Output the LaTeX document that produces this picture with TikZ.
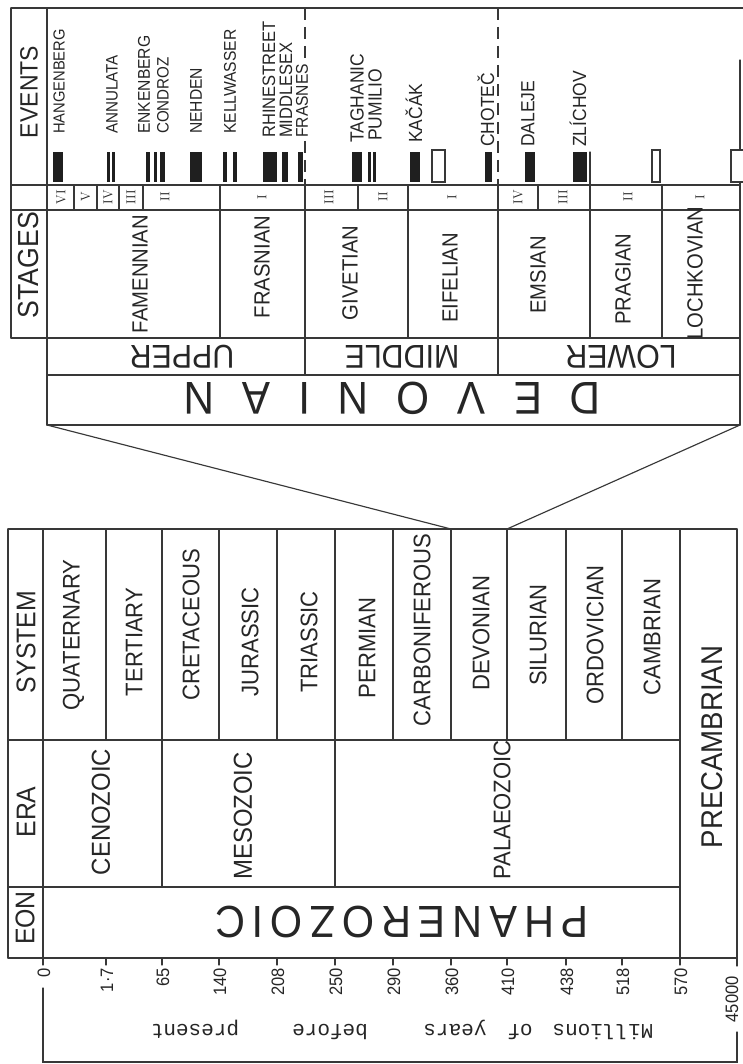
\documentclass[tikz,border=0pt]{standalone}
\usepackage{fontspec}
\newfontfamily\lab{Liberation Sans}[FakeStretch=0.92]
\newfontfamily\mlab{Liberation Mono}
\begin{document}
\begin{tikzpicture}[x=1pt,y=-1pt,
  ln/.style={line width=1.15pt, draw=black!78, line cap=round},
  dsh/.style={line width=1.15pt, draw=black!78, dash pattern=on 12pt off 7pt},
  vt/.style={inner sep=0pt, rotate=90, text=black!85, font={\lab\fontsize{#1}{#1}\selectfont}},
  ut/.style={inner sep=0pt, rotate=180, text=black!85, font={\lab\fontsize{#1}{#1}\selectfont}},
  rn/.style={inner sep=0pt, rotate=90, text=black!85, font={\rmfamily\fontsize{#1}{#1}\selectfont}},
  mw/.style={inner sep=0pt, rotate=180, anchor=base, text=black!85, font={\mlab\fontsize{21}{21}\selectfont}},
  bar/.style={fill=black!88},
  obar/.style={draw=black!78, line width=1.15pt, fill=white},
]
\useasboundingbox (0,0) rectangle (743,1064);
\fill[white] (0,0) rectangle (743,1064);

% ================= TOP TABLE (Devonian detail) =================
\draw[ln] (11,8) -- (746,8);
\draw[ln] (11,8) -- (11,338);
\draw[ln] (47,8) -- (47,425);
\draw[ln] (11,185) -- (740,185);
\draw[ln] (11,210) -- (740,210);
\draw[ln] (11,338) -- (740,338);
\draw[ln] (47,375) -- (740,375);
\draw[ln] (47,425) -- (740,425);
\draw[ln] (740,60) -- (740,425);
\foreach \x in {74,97,119,143,358,538} \draw[ln] (\x,185) -- (\x,210);
\foreach \x in {220,408,662} \draw[ln] (\x,185) -- (\x,338);
\draw[ln] (590,152) -- (590,338);
\foreach \x in {305,498} {\draw[ln] (\x,185) -- (\x,375); \draw[dsh] (\x,8) -- (\x,185);}

% event bars
\fill[bar] (53,152) rectangle (63,182);
\fill[bar] (106.5,152) rectangle (109.5,182);
\fill[bar] (112,152) rectangle (115,182);
\fill[bar] (146,152) rectangle (150,182);
\fill[bar] (154,152) rectangle (157,182);
\fill[bar] (160,152) rectangle (165,182);
\fill[bar] (190,152) rectangle (202,182);
\fill[bar] (223,152) rectangle (227,182);
\fill[bar] (233,152) rectangle (237,182);
\fill[bar] (263,152) rectangle (277,182);
\fill[bar] (282,152) rectangle (288,182);
\fill[bar] (298,152) rectangle (303,182);
\fill[bar] (352,152) rectangle (362,182);
\fill[bar] (368,152) rectangle (370.5,182);
\fill[bar] (373,152) rectangle (375.5,182);
\fill[bar] (410,152) rectangle (420,182);
\draw[obar] (432,150) rectangle (445,182);
\fill[bar] (485,152) rectangle (492,182);
\fill[bar] (525,152) rectangle (535,182);
\fill[bar] (573,152) rectangle (587,182);
\draw[obar] (652,150) rectangle (660,182);
\draw[obar] (731,150) rectangle (747,182);

% event names
\node[vt=16,anchor=west] (eHan) at (59,134) {HANGENBERG};
\node[vt=16.5,anchor=west] (eAnn) at (112,134) {ANNULATA};
\node[vt=17,anchor=west] (eEnk) at (144,134) {ENKENBERG};
\node[vt=16.5,anchor=west] (eCon) at (163,134) {CONDROZ};
\node[vt=17,anchor=west] (eNeh) at (196,134) {NEHDEN};
\node[vt=17,anchor=west] (eKel) at (230,134) {KELLWASSER};
\node[vt=18,anchor=west] (eRhi) at (269,138) {RHINESTREET};
\node[vt=18,anchor=west] (eMid) at (286,138) {MIDDLESEX};
\node[vt=17,anchor=west,fill=white] (eFra) at (302,138) {FRASNES};
\node[vt=19,anchor=west] (eTag) at (357,143) {TAGHANIC};
\node[vt=19,anchor=west] (ePum) at (375,141) {PUMILIO};
\node[vt=19,anchor=west] (eKac) at (414,143) {KAČÁK};
\node[vt=19,anchor=west] (eCho) at (486,147) {CHOTEČ};
\node[vt=19,anchor=west] (eDal) at (528,147) {DALEJE};
\node[vt=19,anchor=west] (eZli) at (578,147) {ZLÍCHOV};

% headers
\node[vt=25] (hEvents) at (29,92) {EVENTS};
\node[vt=29] (hStages) at (29,265) {STAGES};

% substages
\node[rn=13] (s1) at (61,197) {VI};
\node[rn=13] (s2) at (85.5,197) {V};
\node[rn=13] (s3) at (108,197) {IV};
\node[rn=13] (s4) at (131,197) {III};
\node[rn=13] (s5) at (165,197) {II};
\node[rn=13] (s6) at (262,197) {I};
\node[rn=13] (s7) at (329,197) {III};
\node[rn=13] (s8) at (383,197) {II};
\node[rn=13] (s9) at (452,197) {I};
\node[rn=13] (s10) at (518,197) {IV};
\node[rn=13] (s11) at (563,197) {III};
\node[rn=13] (s12) at (628,197) {II};
\node[rn=13] (s13) at (700,197) {I};

% stages
\node[vt=22] (tFam) at (140,274) {FAMENNIAN};
\node[vt=22] (tFra) at (262,267) {FRASNIAN};
\node[vt=22] (tGiv) at (350,273) {GIVETIAN};
\node[vt=22] (tEif) at (450,278) {EIFELIAN};
\node[vt=22] (tEms) at (538,275) {EMSIAN};
\node[vt=22] (tPra) at (623,279) {PRAGIAN};
\node[vt=22] (tLoc) at (695,273) {LOCHKOVIAN};

% series
\node[ut=33] (rUp) at (182,357) {UPPER};
\node[ut=33] (rMid) at (402,357) {MIDDLE};
\node[ut=33] (rLow) at (621,357) {LOWER};

% Devonian
\node[ut=46] (devTitle) at (392,398) {D\kern28pt E\kern28pt V\kern28pt O\kern28pt N\kern28pt I\kern28pt A\kern28pt N};

% ================= BOTTOM TABLE =================
\draw[ln] (8,529) -- (737,529);
\draw[ln] (8,740) -- (680,740);
\draw[ln] (8,887) -- (680,887);
\draw[ln] (8,958) -- (737,958);
\draw[ln] (8,529) -- (8,958);
\foreach \x in {43,680,737} \draw[ln] (\x,529) -- (\x,958);
\foreach \x in {106,219,277,393,451,507,566,622} \draw[ln] (\x,529) -- (\x,740);
\foreach \x in {162,335} \draw[ln] (\x,529) -- (\x,887);

% connectors
\coordinate (devBL) at (47,425);
\coordinate (devBR) at (740,425);
\coordinate (sysDevL) at (451,529);
\coordinate (sysDevR) at (507,529);
\draw[ln] (devBL) -- (sysDevL);
\draw[ln] (devBR) -- (sysDevR);

% headers
\node[vt=27] (hSys) at (26,642) {SYSTEM};
\node[vt=27] (hEra) at (26,812) {ERA};
\node[vt=27] (hEon) at (25,918) {EON};

% systems
\node[vt=24] (yQua) at (73.5,635) {QUATERNARY};
\node[vt=24] (yTer) at (134,642) {TERTIARY};
\node[vt=24] (yCre) at (191,625) {CRETACEOUS};
\node[vt=24] (yJur) at (250,642) {JURASSIC};
\node[vt=24] (yTri) at (309,642) {TRIASSIC};
\node[vt=24] (yPer) at (367,648) {PERMIAN};
\node[vt=24] (yCar) at (422,630) {CARBONIFEROUS};
\node[vt=24] (yDev) at (481,633) {DEVONIAN};
\node[vt=24] (ySil) at (538,635) {SILURIAN};
\node[vt=24] (yOrd) at (595,635) {ORDOVICIAN};
\node[vt=24] (yCam) at (652,637) {CAMBRIAN};

% eras
\node[vt=26] (aCen) at (101,812) {CENOZOIC};
\node[vt=26] (aMes) at (243,816) {MESOZOIC};
\node[vt=24] (aPal) at (502,810) {PALAEOZOIC};
\node[vt=30] (aPre) at (712,747) {PRECAMBRIAN};

% eon
\node[ut=45] (eonPh) at (402,922) {P\kern7pt H\kern7pt A\kern7pt N\kern7pt E\kern7pt R\kern7pt O\kern7pt Z\kern7pt O\kern7pt I\kern7pt C};

% time scale
\foreach \x/\t [count=\i] in {43/0,106/1·7,162/65,219/140,277/208,335/250,393/290,451/360,507/410,566/438,622/518,680/570} {
  \draw[ln] (\x,958) -- (\x,965);
  \node[vt=18,anchor=east] (tk\i) at (\x+1,968) {\t};
}
\draw[ln] (737,958) -- (737,966);
\node[vt=18,anchor=east] (tk13) at (732,976) {45000};

\draw[ln] (43,988) -- (43,1062) -- (737,1062) -- (737,1032);
\node[mw] (wMil) at (603,1024) {Millions};
\node[mw] (wOf) at (520,1024) {of};
\node[mw] (wYea) at (455,1024) {years};
\node[mw] (wBef) at (330,1024) {before};
\node[mw] (wPre) at (195,1024) {present};
\end{tikzpicture}
\end{document}
